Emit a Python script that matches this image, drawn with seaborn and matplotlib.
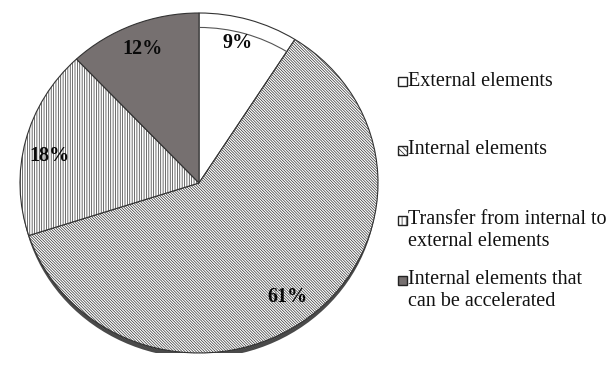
import numpy as np
import matplotlib
matplotlib.use("Agg")
import matplotlib.pyplot as plt
import seaborn as sns
from matplotlib.patches import Ellipse, Arc, Rectangle

categories = ["External elements", "Internal elements",
              "Transfer from internal to\nexternal elements",
              "Internal elements that\ncan be accelerated"]
values = [9, 61, 18, 12]
pct_labels = ["9%", "61%", "18%", "12%"]

sns.set_theme(style="white")
plt.rcParams["font.family"] = ["Liberation Serif", "DejaVu Serif"]
plt.rcParams["hatch.linewidth"] = 0.5
plt.rcParams["hatch.color"] = "#4a4a4a"

face = ["white", "white", "white", "#767070"]
hatches = [None, "\\" * 12, "|" * 7, None]

fig = plt.figure(figsize=(6.16, 3.65), dpi=100)
W, H = 616, 365
ax = fig.add_axes([20 / W, (H - 353) / H, 358 / W, 340 / H])
ax.axis("off")

# shadow
ax.add_patch(Ellipse((0.0, -0.03), 1.99, 2.0, facecolor="#4a4a4a",
                     edgecolor="none", zorder=0))

wedges, _ = ax.pie(values, startangle=90, counterclock=False, radius=1.0,
                   colors=face, frame=False,
                   wedgeprops=dict(edgecolor="#333333", linewidth=0.8))
for w, h in zip(wedges, hatches):
    w.set_zorder(1)
    if h:
        w.set_hatch(h)
ax.set_xlim(-1, 1)
ax.set_ylim(-1, 1)
ax.set_aspect("auto")

# bevel arc inside the first slice
w0 = wedges[0]
ax.add_patch(Arc((0, 0), 2 * 0.915, 2 * 0.915, theta1=w0.theta1, theta2=w0.theta2,
                 color="#555555", linewidth=0.8, zorder=2))

# percentage labels
radii = [0.85, 0.83, 0.85, 0.85]
shifts = [1.5, -1.5, 3.5, 0]
for w, lab, r, s in zip(wedges, pct_labels, radii, shifts):
    ang = np.deg2rad((w.theta1 + w.theta2) / 2 + s)
    ax.text(r * np.cos(ang), r * np.sin(ang), lab, ha="center", va="center",
            fontsize=14.5, fontweight="bold", color="#0a0a0a", zorder=3)

# legend (manual)
leg_y = [81, 150, 220, 280]
leg_hatch = [None, "\\" * 6, "|" * 4, None]
for i, (cat, y) in enumerate(zip(categories, leg_y)):
    rect = Rectangle((398 / W, (H - y - 4.5) / H), 9 / W, 9 / H,
                     transform=fig.transFigure, facecolor=face[i],
                     edgecolor="#222222", linewidth=1.0, hatch=leg_hatch[i])
    fig.add_artist(rect)
    for j, line in enumerate(cat.split("\n")):
        fig.text(408 / W, (H - y - 22 * j) / H, line, ha="left", va="center",
                 fontsize=14.5, color="#111111")

fig.savefig("out.png", dpi=100)
